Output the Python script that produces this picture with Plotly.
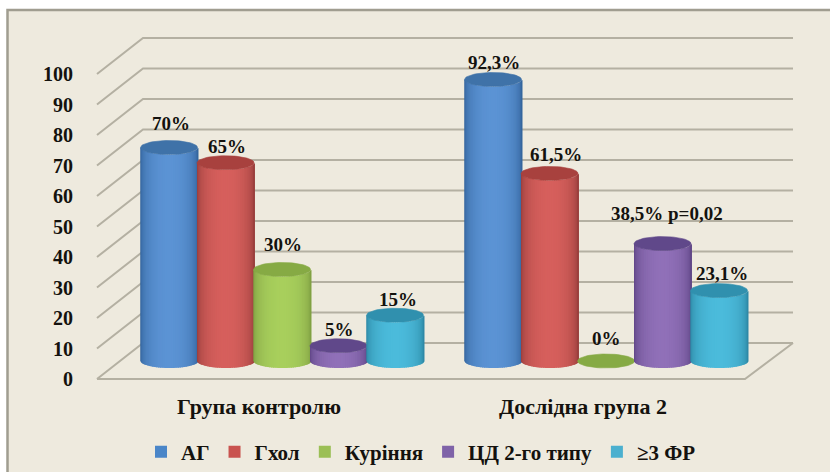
import math
import plotly.graph_objects as go

# Chart data
groups = ["Група контролю", "Дослідна група 2"]
series = ["АГ", "Гхол", "Куріння", "ЦД 2-го типу", "≥3 ФР"]
ag = [70, 92.3]
ghol = [65, 61.5]
smoking = [30, 0]
diabetes = [5, 38.5]
risk3 = [15, 23.1]
values = [ag, ghol, smoking, diabetes, risk3]
labels = [
    ["70%", "92,3%"],
    ["65%", "61,5%"],
    ["30%", "0%"],
    ["5%", "38,5% p=0,02"],
    ["15%", "23,1%"],
]
y_ticks = [0, 10, 20, 30, 40, 50, 60, 70, 80, 90, 100]

# Palette per series: side edge, side centre, top cap, legend swatch
edge = ["#2f5f96", "#8f3a38", "#7b9a40", "#59407f", "#2a829e"]
centre = ["#5b93d4", "#d65f5c", "#a8cf5c", "#9070b8", "#4bbbdb"]
cap = ["#3f72a8", "#a8413e", "#86aa44", "#60488a", "#3090ae"]
swatch = ["#4a86c8", "#c9534f", "#9bbf55", "#7f63a8", "#4bb0cf"]
INK = "#14120e"
BG = "#eeeade"
GRID = "#b4b0a2"

# Plot-area box and scale (pixels per axis unit)
W, H = 830, 472
L, R, T, B = 90, 810, 20, 385
PX_X = 324.0
PX_Y = 3.05
X0_PX, Y0_PX = 259.0, 379.0

# Pseudo-3D projection: depth 0 is the front plane, depth 1 the back wall
DX = 46 / PX_X
DY = 36 / PX_Y
STEP = 56.5 / PX_X
RX = 28.5 / PX_X
RY = 7.0 / PX_Y
FLOOR_L, FLOOR_R = -0.5, 1.5
WALL_R = FLOOR_R + 48 / PX_X


def paper_x(px):
    return (px - L) / (R - L)


def paper_y(px):
    return (B - px) / (B - T)


def mix(c1, c2, t):
    a = [int(c1[i:i + 2], 16) for i in (1, 3, 5)]
    b = [int(c2[i:i + 2], 16) for i in (1, 3, 5)]
    return "#%02x%02x%02x" % tuple(round(p + (q - p) * t) for p, q in zip(a, b))


fig = go.Figure()

# Back wall, side wall and floor outline
gx, gy = [], []
for t in y_ticks:
    gx += [FLOOR_L, FLOOR_L + DX, WALL_R, None]
    gy += [t, t + DY, t + DY, None]
fig.add_trace(go.Scatter(x=gx, y=gy, mode="lines", line=dict(color=GRID, width=2),
                         hoverinfo="skip", showlegend=False))
fig.add_trace(go.Scatter(
    x=[FLOOR_L, FLOOR_R, WALL_R],
    y=[0, 0, DY],
    mode="lines", line=dict(color=GRID, width=2),
    hoverinfo="skip", showlegend=False))

# Cylinders, drawn left to right so each one overlaps its neighbour
STRIPS = 40
OVERLAP = 1.0 / PX_X
annotations = []
lift = [[24, 17], [16, 19], [25, 23], [16, 30], [16, 17]]
shift = [[2, 1], [1, 6], [1, 0], [1, 4], [3, 3]]
for g in range(len(groups)):
    for s in range(len(series)):
        v = values[s][g]
        cx = g + DX / 2 + (s - 2) * STEP
        base = DY / 2
        top = v + DY / 2
        if v > 0:
            for k in range(STRIPS):
                a1 = math.pi * k / STRIPS
                a2 = math.pi * (k + 1) / STRIPS
                x1 = cx - RX * math.cos(a1)
                x2 = cx - RX * math.cos(a2)
                if k < STRIPS - 1:
                    x2 += OVERLAP
                e1, e2 = RY * math.sin(a1), RY * math.sin(a2)
                shade = math.sin((a1 + a2) / 2) ** 0.9
                colour = mix(edge[s], centre[s], shade)
                fig.add_trace(go.Scatter(
                    x=[x1, x2, x2, x1, x1],
                    y=[base - e1, base - e2, top - e2, top - e1, base - e1],
                    mode="lines", fill="toself", fillcolor=colour,
                    line=dict(width=0),
                    hoverinfo="skip", showlegend=False))
        ex = [cx + RX * math.cos(2 * math.pi * i / 60) for i in range(61)]
        ey = [top + RY * math.sin(2 * math.pi * i / 60) for i in range(61)]
        fig.add_trace(go.Scatter(
            x=ex, y=ey, mode="lines", fill="toself", fillcolor=cap[s],
            line=dict(color=cap[s], width=0.6),
            hoverinfo="skip", showlegend=False))
        annotations.append(dict(
            x=cx, y=top, xref="x", yref="y", text=labels[s][g], showarrow=False,
            xanchor="center", yanchor="middle", xshift=shift[s][g], yshift=lift[s][g],
            font=dict(family="Liberation Serif", size=19, color=INK, weight=700)))

# Legend entries
for s, name in enumerate(series):
    fig.add_trace(go.Scatter(
        x=[None], y=[None], mode="markers", name=name,
        marker=dict(symbol="square", size=12, color=swatch[s])))

fig.update_layout(
    width=W, height=H, autosize=False,
    margin=dict(l=L, r=W - R, t=T, b=H - B, pad=0, autoexpand=False),
    paper_bgcolor="white", plot_bgcolor="rgba(0,0,0,0)",
    font=dict(family="Liberation Serif", color=INK),
    xaxis=dict(
        range=[(L - X0_PX) / PX_X, (R - X0_PX) / PX_X],
        tickmode="array", tickvals=[0, 1], ticktext=groups,
        ticks="outside", ticklen=2, tickcolor="rgba(0,0,0,0)",
        tickfont=dict(family="Liberation Serif", size=22, color=INK, weight=700),
        showgrid=False, zeroline=False, showline=False, fixedrange=True),
    yaxis=dict(
        range=[(Y0_PX - B) / PX_Y, (Y0_PX - T) / PX_Y],
        tickmode="array", tickvals=y_ticks,
        ticks="outside", ticklen=12, tickcolor="rgba(0,0,0,0)",
        tickfont=dict(family="Liberation Serif", size=20, color=INK, weight=700),
        showgrid=False, zeroline=False, showline=False, fixedrange=True),
    legend=dict(
        orientation="h", x=paper_x(421), y=paper_y(452),
        xanchor="center", yanchor="middle",
        bgcolor="rgba(0,0,0,0)", borderwidth=0,
        font=dict(family="Liberation Serif", size=21, color=INK, weight=700)),
    annotations=annotations,
    shapes=[dict(
        type="rect", xref="paper", yref="paper", layer="below",
        x0=paper_x(7.5), x1=paper_x(850), y0=paper_y(10), y1=paper_y(490),
        fillcolor=BG, line=dict(color="#a09d90", width=2.5))],
)

fig.write_html("out.html")
